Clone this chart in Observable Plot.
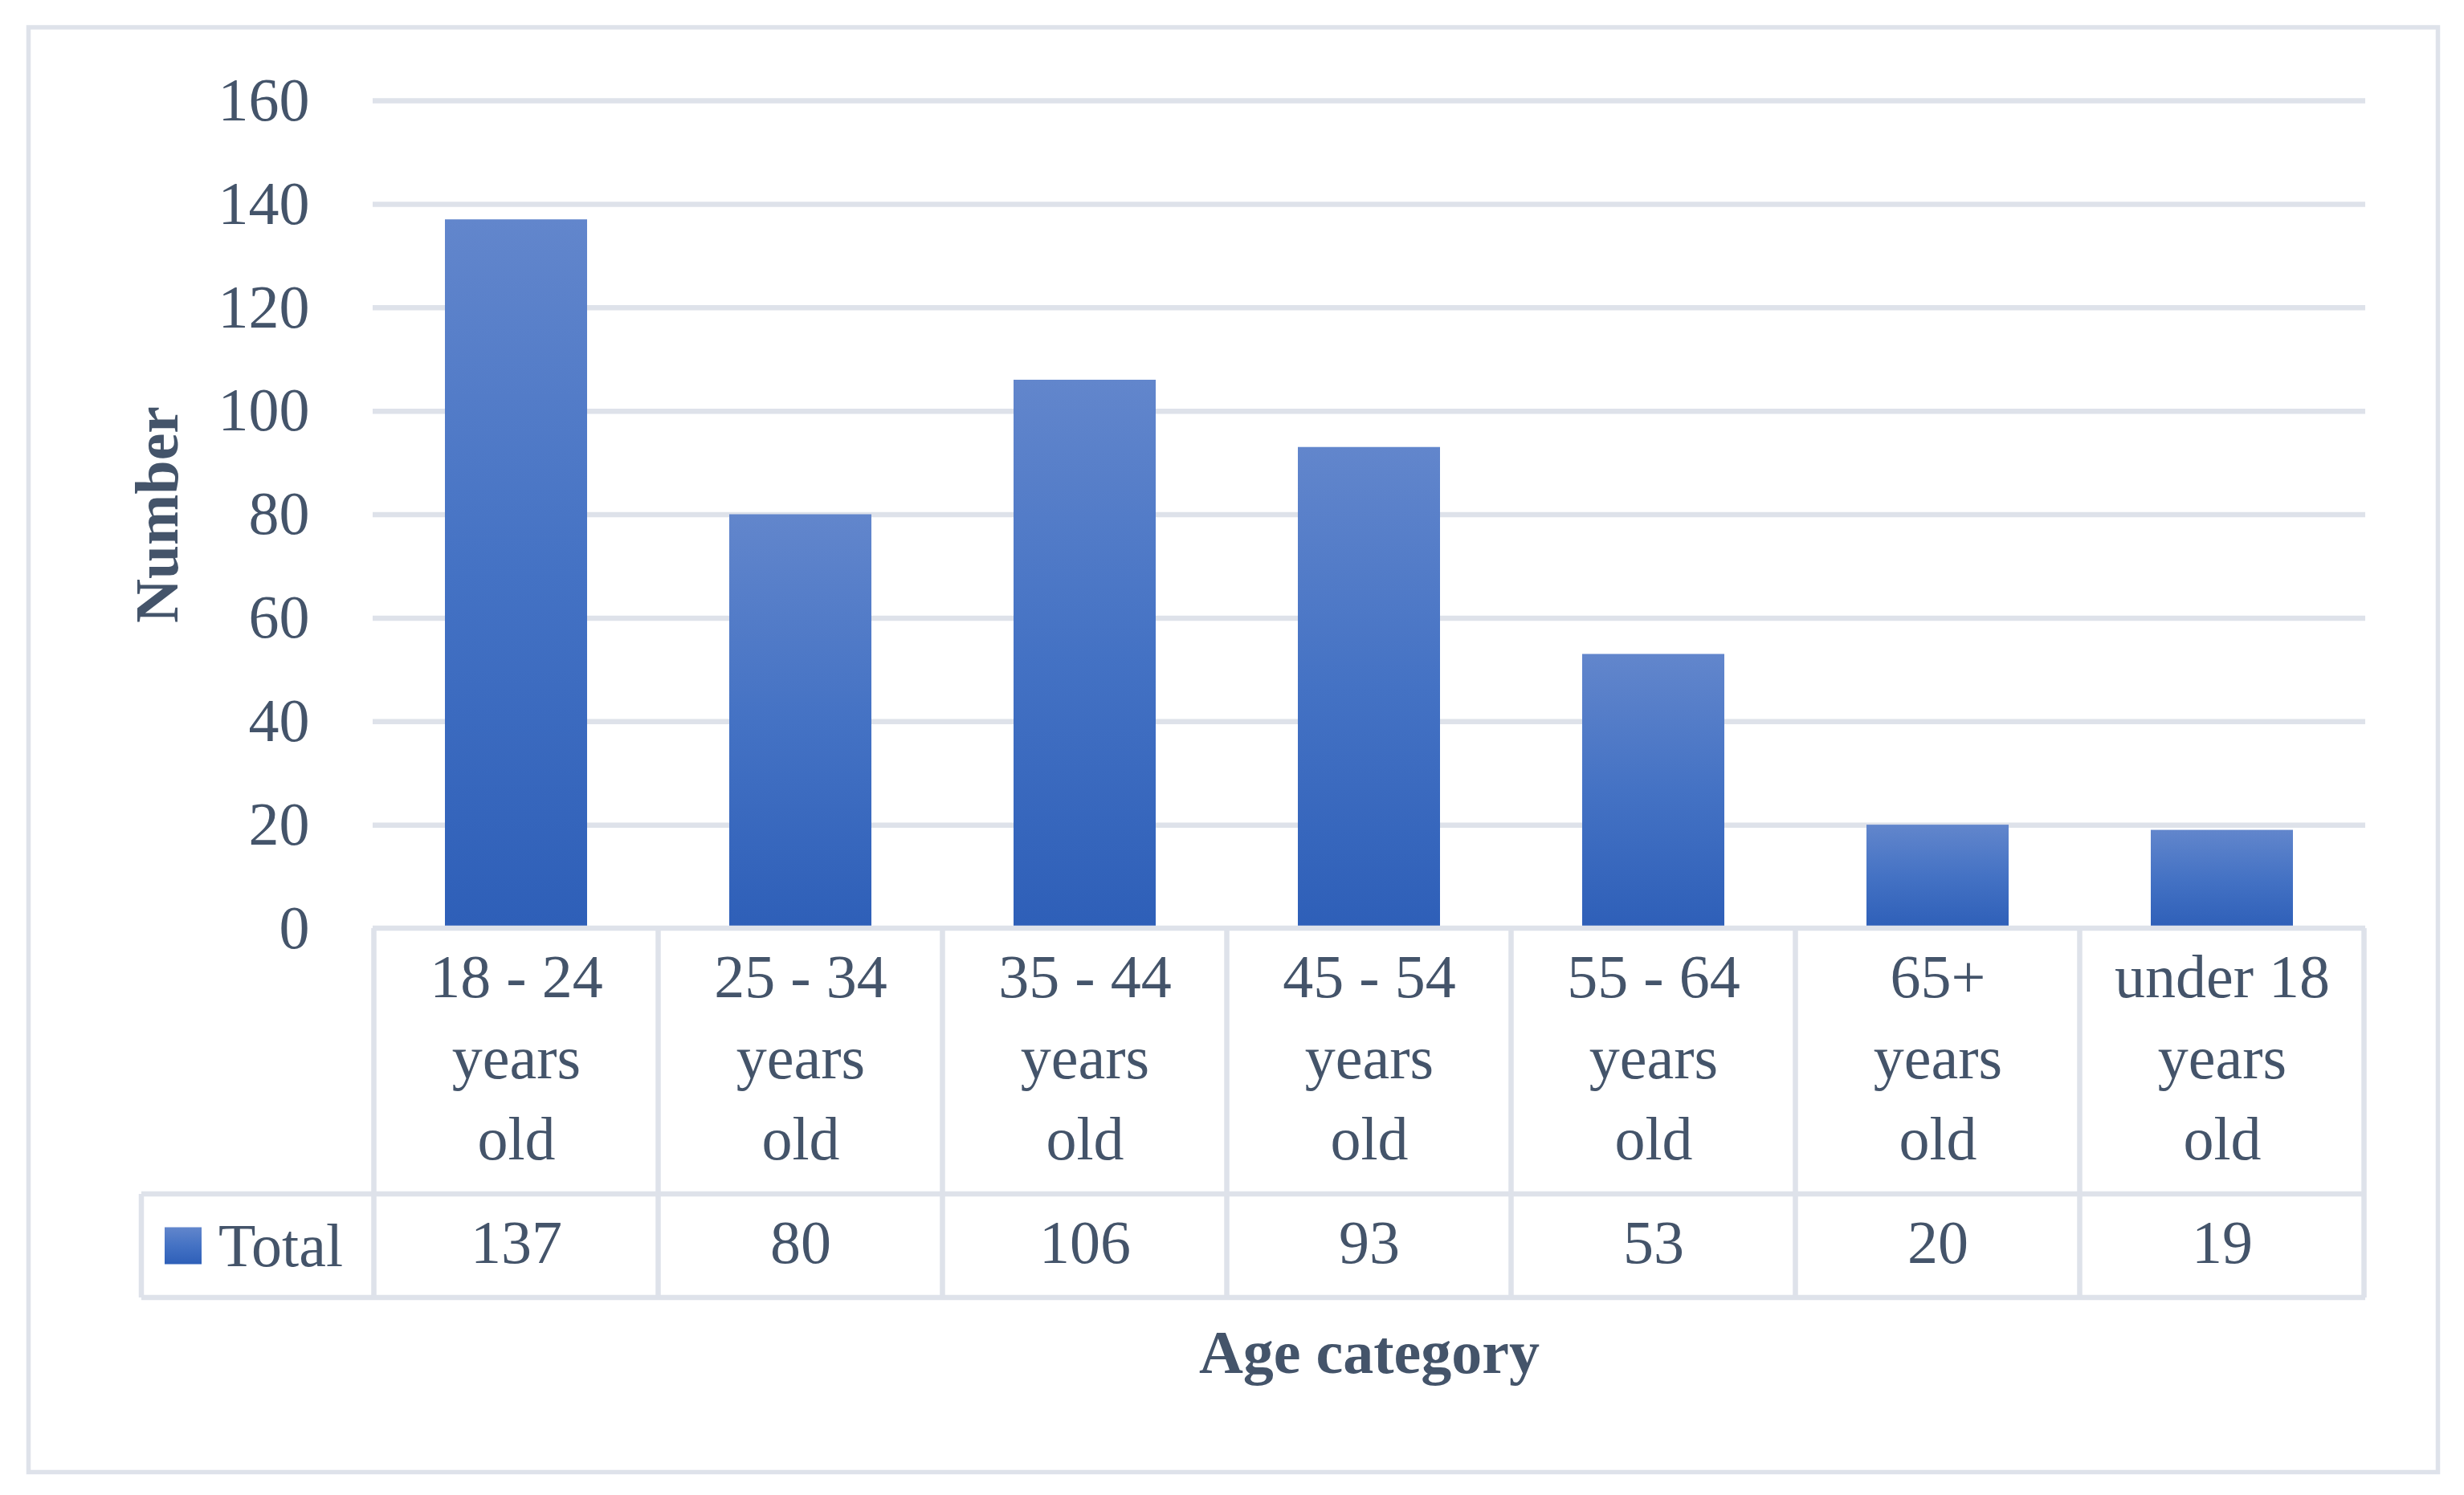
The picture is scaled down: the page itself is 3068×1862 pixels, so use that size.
<!DOCTYPE html>
<html>
<head>
<meta charset="utf-8">
<script src="https://cdn.jsdelivr.net/npm/d3@7"></script>
<script src="https://cdn.jsdelivr.net/npm/@observablehq/plot@0.6"></script>
<style>
  html, body { margin: 0; padding: 0; background: #fff; }
  #chart svg { display: block; }
</style>
</head>
<body>
<div id="chart"></div>
<script>
// ---- Data ----
const categories = ["18 - 24 years old", "25 - 34 years old", "35 - 44 years old", "45 - 54 years old", "55 - 64 years old", "65+ years old", "under 18 years old"];
const categoryLines = ["18 - 24\nyears\nold", "25 - 34\nyears\nold", "35 - 44\nyears\nold", "45 - 54\nyears\nold", "55 - 64\nyears\nold", "65+\nyears\nold", "under 18\nyears\nold"];
const totals = [137, 80, 106, 93, 53, 20, 19];
const yTicks = [0, 20, 40, 60, 80, 100, 120, 140, 160];
const seriesName = "Total";
const xTitle = "Age category";
const yTitle = "Number";

const data = categories.map((c, i) => ({category: c, value: totals[i]}));
const lineLabel = new Map(categories.map((c, i) => [c, categoryLines[i]]));
const valueLabel = new Map(categories.map((c, i) => [c, String(totals[i])]));

// ---- Style ----
const textColor = "#44546A";
const lineColor = "#DEE2EA";
const font = "'Liberation Serif', 'Times New Roman', serif";
const fs = 76;

const W = 3068, H = 1862;
const mTop = 125, mBottom = 706, mLeft = 464, mRight = 123;

const svgNS = "http://www.w3.org/2000/svg";
function el(name, attrs) {
  const e = document.createElementNS(svgNS, name);
  for (const k in attrs) e.setAttribute(k, attrs[k]);
  return e;
}

// defs: gradient for bars and legend swatch
function defsMark() {
  const g = el("g", {});
  const defs = el("defs", {});
  const lg = el("linearGradient", {id: "barGrad", x1: 0, y1: 0, x2: 0, y2: 1});
  [["0%", "#6286CC"], ["50%", "#4472C4"], ["100%", "#2E5FB8"]].forEach(([o, c]) => {
    lg.appendChild(el("stop", {offset: o, "stop-color": c}));
  });
  defs.appendChild(lg);
  g.appendChild(defs);
  return g;
}

// data table grid, legend cell and outer border
function tableMark(index, scales, values, dims) {
  const x = scales.x;
  const step = x.step();
  const bw = x.bandwidth();
  const left = dims.marginLeft;
  const right = dims.width - dims.marginRight;
  const top = dims.height - dims.marginBottom;       // the zero line
  const mid = top + 331;
  const bottom = top + 460;
  const legendLeft = left - 288;
  const g = el("g", {stroke: lineColor, "stroke-width": 6.5, fill: "none"});
  // horizontal lines
  g.appendChild(el("line", {x1: left, x2: right, y1: top, y2: top}));
  g.appendChild(el("line", {x1: legendLeft, x2: right, y1: mid, y2: mid}));
  g.appendChild(el("line", {x1: legendLeft, x2: right, y1: bottom, y2: bottom}));
  g.appendChild(el("line", {x1: legendLeft, x2: legendLeft, y1: mid, y2: bottom}));
  // vertical column boundaries
  const bounds = x.domain().map(c => x(c) + bw / 2 - step / 2);
  bounds.push(x(x.domain()[x.domain().length - 1]) + bw / 2 + step / 2);
  bounds.forEach(b => g.appendChild(el("line", {x1: b, x2: b, y1: top, y2: bottom})));
  // outer border
  g.appendChild(el("rect", {x: 35.5, y: 34, width: dims.width - 35.5 - 32.5, height: dims.height - 34 - 28.5, "stroke-width": 5.5}));
  // legend swatch + label
  const cy = (mid + bottom) / 2;
  const sw = 46;
  g.appendChild(el("rect", {x: legendLeft + 29, y: cy - sw / 2, width: sw, height: sw, fill: "url(#barGrad)", stroke: "none"}));
  const t = el("text", {x: legendLeft + 96, y: cy, dy: "0.34em", fill: textColor, stroke: "none",
    "text-anchor": "start", "font-family": font, "font-size": fs});
  t.textContent = seriesName;
  g.appendChild(t);
  return g;
}

const chart = Plot.plot({
  width: W,
  height: H,
  marginTop: mTop,
  marginBottom: mBottom,
  marginLeft: mLeft,
  marginRight: mRight,
  style: {fontFamily: font, fontSize: fs + "px", color: textColor, background: "#fff"},
  x: {type: "band", domain: categories, paddingInner: 0.5, paddingOuter: 0.25},
  y: {domain: [0, 160]},
  marks: [
    defsMark,
    Plot.ruleY(yTicks.filter(d => d > 0), {stroke: lineColor, strokeWidth: 6.5}),
    Plot.barY(data, {x: "category", y: "value", fill: "url(#barGrad)"}),
    tableMark,
    Plot.axisY({ticks: yTicks, tickSize: 0, tickPadding: 79, fontSize: fs, label: null, fill: textColor}),
    Plot.axisX({tickSize: 0, tickPadding: 14, fontSize: fs, lineHeight: 1.33, label: null,
      tickFormat: d => lineLabel.get(d), fill: textColor}),
    Plot.axisX({tickSize: 0, tickPadding: 363, fontSize: fs, label: null,
      tickFormat: d => valueLabel.get(d), fill: textColor}),
    Plot.text([xTitle], {frameAnchor: "bottom", dy: 529, lineAnchor: "middle", textAnchor: "middle",
      fontSize: fs, fontWeight: "bold", fill: textColor}),
    Plot.text([yTitle], {frameAnchor: "left", dx: -268, rotate: -90, lineAnchor: "middle", textAnchor: "middle",
      fontSize: fs, fontWeight: "bold", fill: textColor})
  ]
});

document.getElementById("chart").appendChild(chart);
</script>
</body>
</html>
